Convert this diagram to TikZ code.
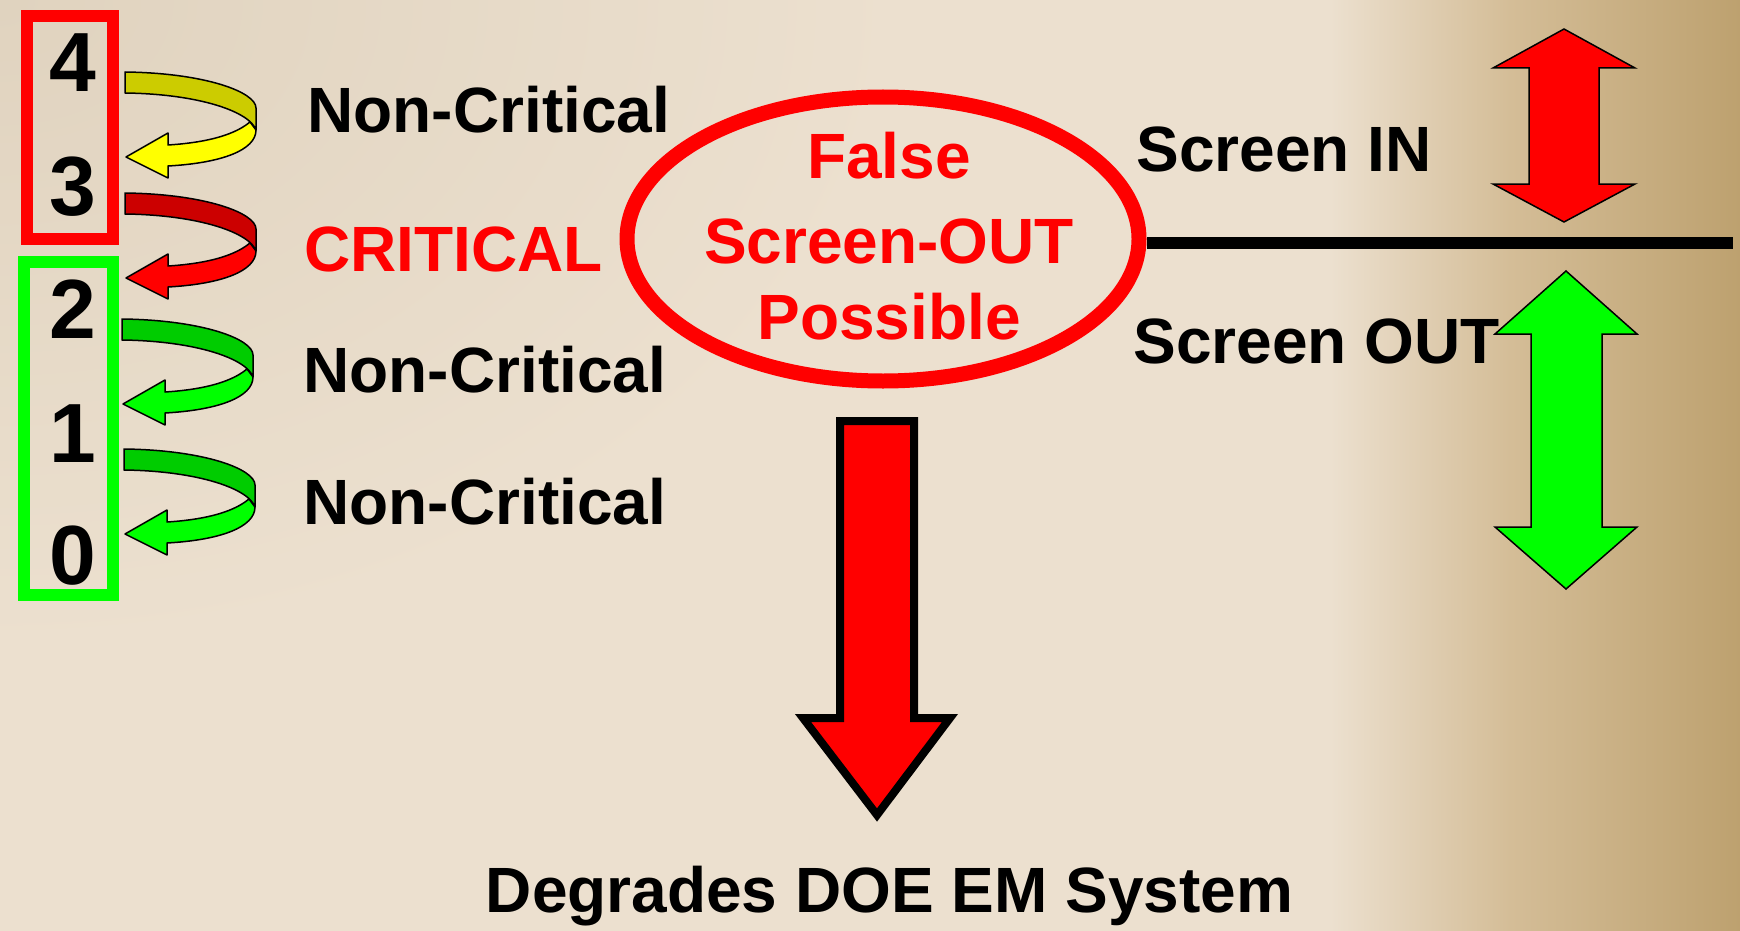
\documentclass[tikz,border=0pt]{standalone}
\usepackage{fontspec}
\setmainfont{Liberation Sans}
\usetikzlibrary{shapes.geometric}

\definecolor{bgbase}{RGB}{236,224,207}
\definecolor{bgdark}{RGB}{224,211,191}
\definecolor{bgmid}{RGB}{212,189,151}
\definecolor{bgtan}{RGB}{189,161,111}
\definecolor{pptred}{RGB}{255,0,0}
\definecolor{pptgreen}{RGB}{0,255,0}
\definecolor{pptyellow}{RGB}{255,255,0}
\definecolor{shadered}{RGB}{204,0,0}
\definecolor{shadegreen}{RGB}{0,204,0}
\definecolor{shadeyellow}{RGB}{204,204,0}

\pgfdeclarehorizontalshading{bgshade}{100bp}{color(0bp)=(bgbase); color(63.2bp)=(bgbase); color(68.4bp)=(bgmid); color(75bp)=(bgtan); color(100bp)=(bgtan)}

\tikzset{
  digit/.style={font=\fontsize{42}{42}\selectfont\bfseries, inner sep=0pt, anchor=base},
  words/.style={font=\fontsize{32}{40}\selectfont\bfseries, inner sep=0pt, anchor=base west},
  bendline/.style={draw=black, line width=0.75pt, line join=round},
  bigarrow/.style={draw=black, line width=0.75pt, line join=miter}
}

% curved arrow from one level down to the next
\newcommand{\bendarrow}[4]{%
  \begin{scope}[shift={(#1,#2)}]
    \filldraw[bendline, fill=#3] (125,72) .. controls (205,73) and (256,92) .. (256,108) -- (256,130) .. controls (250,112) and (200,94) .. (125,93) -- cycle;
    \filldraw[bendline, fill=#4] (250,122) .. controls (232,137) and (200,143) .. (168,145) -- (168,133) -- (126,157) -- (168,178) -- (168,166) .. controls (222,163) and (256,150) .. (256,130) -- cycle;
  \end{scope}}

\begin{document}
\begin{tikzpicture}[x=0.5pt, y=-0.5pt]

\useasboundingbox (0,0) rectangle (1740,931);
\shade[shading=bgshade] (0,0) rectangle (1740,931);
\begin{scope}
  \clip (0,0) rectangle (1740,931);
  \shade[inner color=bgdark, outer color=bgbase] (-900,-650) rectangle (900,650);
\end{scope}

% level boxes
\draw[pptred, line width=6pt] (27,16) rectangle (112.5,238.5);
\draw[pptgreen, line width=6pt] (24,261.5) rectangle (112.5,595);

\node[digit] (d4) at (73,92) {4};
\node[digit] (d3) at (73,215) {3};
\node[digit] (d2) at (73,338) {2};
\node[digit] (d1) at (73,462) {1};
\node[digit] (d0) at (73,584) {0};

\bendarrow{0}{0}{shadeyellow}{pptyellow}
\bendarrow{0}{121}{shadered}{pptred}
\bendarrow{-3}{247}{shadegreen}{pptgreen}
\bendarrow{-1}{377}{shadegreen}{pptgreen}

\node[words] (nc43) at (307,133) {Non-Critical};
\node[words, pptred] (crit) at (304,271) {CRITICAL};
\node[words] (nc21) at (303,392) {Non-Critical};
\node[words] (nc10) at (303,524) {Non-Critical};

% false screen-out
\node[ellipse, draw=pptred, line width=7.5pt, minimum width=256pt, minimum height=142pt, inner sep=0pt] (oval) at (883,239) {};
\node[words, pptred, anchor=base] (false) at (889,178) {False};
\node[words, pptred, anchor=base] (screenout) at (889,263) {Screen-OUT};
\node[words, pptred, anchor=base] (possible) at (889,339) {Possible};

\coordinate (lineend) at (1733,243);
\draw[line width=6pt] (oval.east |- lineend) -- (lineend);

\node[words] (scrin) at (1136,171) {Screen IN};
\node[words] (scrout) at (1133,363) {Screen OUT};

\filldraw[bigarrow, fill=pptred] (1564,29) -- (1635,68) -- (1599,68) -- (1599,184) -- (1635,184) -- (1564,222) -- (1493,184) -- (1529,184) -- (1529,68) -- (1493,68) -- cycle;
\filldraw[bigarrow, fill=pptgreen] (1566,271) -- (1637,334) -- (1602,334) -- (1602,527) -- (1637,527) -- (1566,589) -- (1495,527) -- (1531,527) -- (1531,334) -- (1495,334) -- cycle;

% result
\filldraw[draw=black, line width=4pt, fill=pptred, line join=miter] (840,421) -- (914,421) -- (914,718) -- (950,718) -- (877,815) -- (803,718) -- (840,718) -- cycle;
\node[words, anchor=base] (degrades) at (889.5,912) {Degrades DOE EM System};

\end{tikzpicture}
\end{document}
